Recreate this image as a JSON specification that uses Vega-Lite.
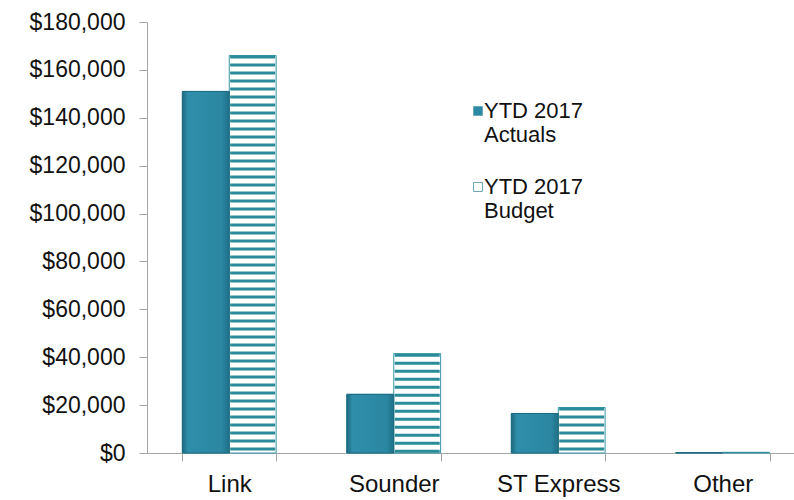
{
  "$schema": "https://vega.github.io/schema/vega-lite/v6.json",
  "width": 647,
  "height": 431,
  "autosize": {"type": "none"},
  "padding": {"left": 147, "top": 22, "right": 0, "bottom": 47},
  "background": "white",
  "config": {"view": {"stroke": null}, "font": "Liberation Sans"},
  "data": {"values": [
    {"mode": "Link", "series": "YTD 2017 Actuals", "value": 151000},
    {"mode": "Link", "series": "YTD 2017 Budget", "value": 166000},
    {"mode": "Sounder", "series": "YTD 2017 Actuals", "value": 24500},
    {"mode": "Sounder", "series": "YTD 2017 Budget", "value": 41500},
    {"mode": "ST Express", "series": "YTD 2017 Actuals", "value": 16500},
    {"mode": "ST Express", "series": "YTD 2017 Budget", "value": 19000},
    {"mode": "Other", "series": "YTD 2017 Actuals", "value": 200},
    {"mode": "Other", "series": "YTD 2017 Budget", "value": 300}
  ]},
  "encoding": {
    "x": {
      "field": "mode", "type": "nominal",
      "sort": ["Link", "Sounder", "ST Express", "Other"],
      "scale": {"range": [0, 658], "paddingInner": 0.43, "paddingOuter": 0.215},
      "axis": {
        "title": null, "labelAngle": 0, "labelFontSize": 24, "labelColor": "#111111",
        "tickBand": "extent", "tickSize": 8, "tickColor": "#a6a6a6",
        "domainColor": "#a6a6a6", "labelPadding": 11
      }
    },
    "xOffset": {"field": "series", "type": "nominal", "scale": {"paddingInner": 0, "paddingOuter": 0}},
    "y": {
      "field": "value", "type": "quantitative",
      "scale": {"domain": [0, 180000], "nice": false},
      "axis": {
        "title": null, "grid": false,
        "values": [0, 20000, 40000, 60000, 80000, 100000, 120000, 140000, 160000, 180000],
        "format": "$,.0f", "labelFontSize": 23, "labelColor": "#111111",
        "tickSize": 8, "tickColor": "#a6a6a6", "domainColor": "#a6a6a6", "labelPadding": 14
      }
    }
  },
  "layer": [
    {
      "mark": {"type": "bar", "stroke": "#3a96a6", "strokeWidth": 1},
      "encoding": {
        "fill": {
          "field": "series", "type": "nominal",
          "scale": {"range": ["#2c89a4", "#ffffff"]},
          "legend": {
            "orient": "none", "legendX": 320, "legendY": 78, "title": null,
            "labelExpr": "['YTD 2017', replace(datum.label, 'YTD 2017 ', '')]",
            "labelFontSize": 22, "labelColor": "#111111", "labelBaseline": "middle",
            "labelLineHeight": 25,
            "symbolType": "square", "symbolSize": 80,
            "symbolStrokeColor": "#6aa7b6", "symbolStrokeWidth": 1,
            "rowPadding": 30, "labelOffset": -5
          }
        }
      }
    },
    {
      "transform": [{"filter": "datum.series == 'YTD 2017 Actuals'"}],
      "mark": {
        "type": "bar", "stroke": "#1f6a80", "strokeWidth": 1,
        "fill": {
          "gradient": "linear", "x1": 0, "y1": 0, "x2": 1, "y2": 0,
          "stops": [
            {"offset": 0, "color": "#1d6a80"},
            {"offset": 0.12, "color": "#2f8eaa"},
            {"offset": 0.85, "color": "#2b87a2"},
            {"offset": 1, "color": "#1e6f86"}
          ]
        }
      }
    },
    {
      "transform": [{"filter": "datum.series == 'YTD 2017 Budget'"}],
      "mark": {"type": "rule", "color": "#2a8c98", "strokeWidth": 45, "strokeDash": [3, 5], "strokeCap": "butt"},
      "encoding": {
        "y2": {"datum": 0}
      }
    }
  ]
}
